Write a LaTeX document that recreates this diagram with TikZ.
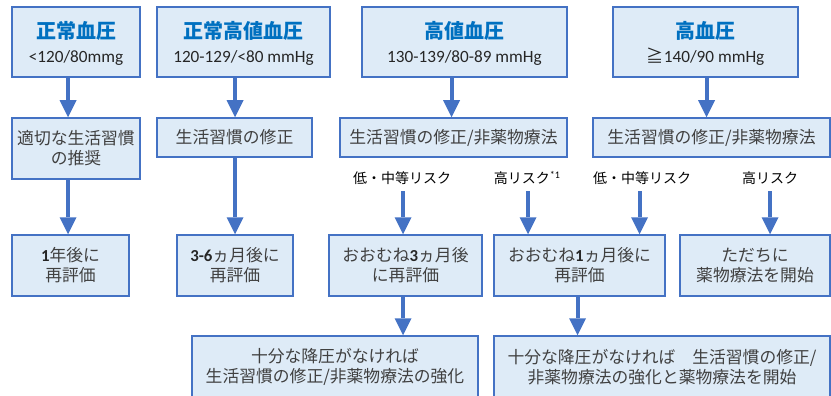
\documentclass[tikz,border=0pt]{standalone}
\usepackage{fontspec}
\setmainfont{Carlito}
\newfontfamily\jp{Noto Sans CJK JP}
\usetikzlibrary{arrows.meta}
\definecolor{boxfill}{HTML}{DEEBF7}
\definecolor{boxline}{HTML}{4472C4}
\definecolor{arrowc}{HTML}{4472C4}
\definecolor{titlec}{HTML}{0070C0}
\definecolor{bodyc}{HTML}{404040}
\tikzset{
  box/.style={draw=boxline, fill=boxfill, line width=1.5pt, align=center, inner sep=0pt,
    text=bodyc, font=\jp\fontsize{16.8}{20}\selectfont},
  headbox/.style={box, font=\rmfamily\fontsize{17.2}{23.3}\selectfont, text=black!85},
  risk/.style={inner sep=0pt, font=\jp\fontsize{14}{16}\selectfont, text=black},
  arr/.style={draw=arrowc, line width=4pt, -{Triangle[length=17pt,width=17pt,line width=0pt]}},
}
\newcommand{\ttl}[1]{{\jp\bfseries\color{titlec}\fontsize{20}{23.3}\selectfont\rule{0pt}{20pt}#1}}
\newcommand{\dg}[1]{{\rmfamily\bfseries\color{black!85}#1}}
\begin{document}
\begin{tikzpicture}[x=1pt,y=-1pt]
\useasboundingbox (0,0) rectangle (831,396);
% row 1
\node[headbox, minimum width=128pt, minimum height=70pt] (t1) at (76,42) {\ttl{正常血圧}\\<120/80mmg};
\node[headbox, minimum width=173pt, minimum height=70pt] (t2) at (243.5,42) {\ttl{正常高値血圧}\\120-129/<80 mmHg};
\node[headbox, minimum width=205pt, minimum height=70pt] (t3) at (464.5,42) {\ttl{高値血圧}\\130-139/80-89 mmHg};
\node[headbox, minimum width=185pt, minimum height=70pt] (t4) at (705.5,42) {\ttl{高血圧}\\{\jp ≧}140/90 mmHg};
% row 2
\node[box, minimum width=128pt, minimum height=61pt] (r1) at (76,148.5) {適切な生活習慣\\の推奨};
\node[box, minimum width=155pt, minimum height=39pt] (r2) at (234.5,137.5) {生活習慣の修正};
\node[box, minimum width=227pt, minimum height=39pt] (r3) at (453.5,137.5) {生活習慣の修正/非薬物療法};
\node[box, minimum width=237pt, minimum height=39pt] (r4) at (711.5,137.5) {生活習慣の修正/非薬物療法};
% risk labels
\node[risk] (l1) at (402,178) {低・中等リスク};
\node[risk] (l2) at (527,178) {高リスク{\rmfamily\fontsize{10}{10}\selectfont\raisebox{5pt}{*1}}};
\node[risk] (l3) at (642,178) {低・中等リスク};
\node[risk] (l4) at (770,178) {高リスク};
% row 3
\node[box, minimum width=117pt, minimum height=61pt] (b1) at (70.5,265.5) {\dg{1}年後に\\再評価};
\node[box, minimum width=116pt, minimum height=61pt] (b2) at (235,265.5) {\dg{3-6}ヵ月後に\\再評価};
\node[box, minimum width=153pt, minimum height=61pt] (b3) at (405.5,265.5) {おおむね\dg{3}ヵ月後\\に再評価};
\node[box, minimum width=171pt, minimum height=61pt] (b4) at (579.5,265.5) {おおむね\dg{1}ヵ月後に\\再評価};
\node[box, minimum width=150pt, minimum height=61pt] (b5) at (755,265.5) {ただちに\\薬物療法を開始};
% row 4
\node[box, minimum width=286pt, minimum height=62pt] (c1) at (335,367) {十分な降圧がなければ\\生活習慣の修正/非薬物療法の強化};
\node[box, minimum width=336pt, minimum height=62pt] (c2) at (662,367) {十分な降圧がなければ　生活習慣の修正/\\非薬物療法の強化と薬物療法を開始};
% arrows
\draw[arr] ([xshift=-8pt]t1.south) -- ([xshift=-8pt]t1.south |- r1.north);
\draw[arr] ([xshift=-8pt]r1.south) -- ([xshift=-8pt]r1.south |- b1.north);
\draw[arr] ([xshift=-8.5pt]t2.south) -- ([xshift=-8.5pt]t2.south |- r2.north);
\draw[arr] ([xshift=0.5pt]r2.south) -- ([xshift=0.5pt]r2.south |- b2.north);
\draw[arr] ([xshift=-13pt]t3.south) -- ([xshift=-13pt]t3.south |- r3.north);
\draw[arr] ([xshift=1pt]t4.south) -- ([xshift=1pt]t4.south |- r4.north);
\draw[arr] ([xshift=1pt,yshift=-13pt]l1.center) -- ([xshift=1pt]l1.center |- b3.north);
\draw[arr] ([xshift=1pt,yshift=-13pt]l2.center) -- ([xshift=1pt]l2.center |- b4.north);
\draw[arr] ([xshift=-2.5pt,yshift=-13pt]l3.center) -- ([xshift=-2.5pt]l3.center |- b4.north);
\draw[arr] ([yshift=-13pt]l4.center) -- (l4.center |- b5.north);
\draw[arr] ([xshift=-2.5pt]b3.south) -- ([xshift=-2.5pt]b3.south |- c1.north);
\draw[arr] ([xshift=-2pt]b4.south) -- ([xshift=-2pt]b4.south |- c2.north);
\end{tikzpicture}
\end{document}
